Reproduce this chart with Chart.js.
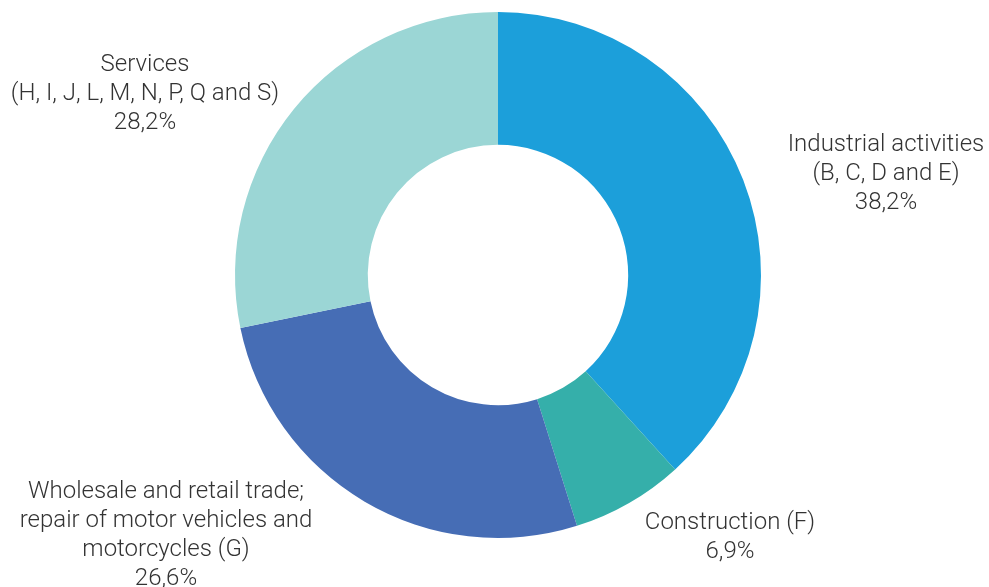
<!DOCTYPE html>
<html>
<head>
<meta charset="utf-8">
<script src="https://cdn.jsdelivr.net/npm/chart.js@4"></script>
<style>
  html, body { margin: 0; padding: 0; background: #fff; }
  #wrap { width: 989px; height: 587px; position: relative; }
</style>
</head>
<body>
<div id="wrap"><canvas id="chart"></canvas></div>
<script>
const categories = [
  ["Industrial activities", "(B, C, D and E)"],
  ["Construction (F)"],
  ["Wholesale and retail trade;", "repair of motor vehicles and", "motorcycles (G)"],
  ["Services", "(H, I, J, L, M, N, P, Q and S)"]
];
const shares = [38.2, 6.9, 26.6, 28.2];
const sliceColors = ["#1c9fda", "#35afaa", "#466db5", "#9bd6d5"];

// label centre offsets from the doughnut centre (x, y of the first line)
const labelOffsets = [[388, -130], [232, 248], [-332, 217], [-353, -210]];

const outsideLabels = {
  id: "outsideLabels",
  afterDraw(chart) {
    const ctx = chart.ctx;
    const arc = chart.getDatasetMeta(0).data[0];
    const cx = arc.x, cy = arc.y;
    ctx.save();
    ctx.font = "300 24px Roboto";
    ctx.fillStyle = "#333333";
    ctx.textAlign = "center";
    ctx.textBaseline = "middle";
    categories.forEach((lines, i) => {
      const all = lines.concat([shares[i].toFixed(1).replace(".", ",") + "%"]);
      const [dx, dy] = labelOffsets[i];
      all.forEach((t, j) => ctx.fillText(t, cx + dx, cy + dy + j * 29));
    });
    ctx.restore();
  }
};

new Chart(document.getElementById("chart"), {
  type: "doughnut",
  data: {
    labels: categories.map(c => c.join(" ")),
    datasets: [{
      data: shares,
      backgroundColor: sliceColors,
      borderWidth: 0
    }]
  },
  options: {
    responsive: true,
    maintainAspectRatio: false,
    animation: false,
    cutout: "49.5%",
    layout: { padding: { top: 12, bottom: 49, left: 7, right: 0 } },
    plugins: {
      legend: { display: false },
      tooltip: { enabled: false }
    }
  },
  plugins: [outsideLabels]
});
</script>
</body>
</html>
